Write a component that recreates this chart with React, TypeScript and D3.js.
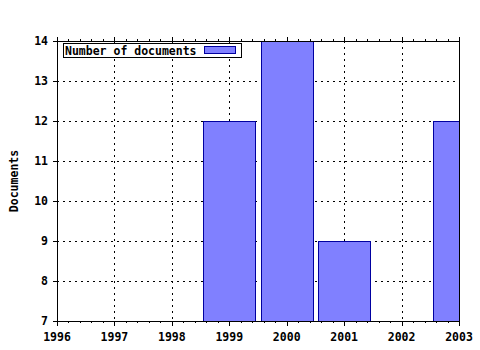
import React from "react";
import * as d3 from "d3";

const years = [1999, 2000, 2001, 2003];
const docs = [12, 14, 9, 12];
const xTicks = [1996, 1997, 1998, 1999, 2000, 2001, 2002, 2003];
const yTicks = [7, 8, 9, 10, 11, 12, 13, 14];
const seriesName = "Number of documents";
const yTitle = "Documents";

export default function App() {
  const W = 480, H = 350;
  const L = 57, R = 459, T = 41, B = 321;
  const x = d3.scaleLinear().domain([1996, 2003]).range([L, R]);
  const y = d3.scaleLinear().domain([7, 14]).range([B, T]);
  const minor = d3.range(1996, 2003.001, 0.2).filter((v) => Math.abs(v - Math.round(v)) > 0.01);
  const font = "'DejaVu Sans Mono', monospace";
  const fs = 11.5;
  const bw = 0.9;
  return (
    <svg width={W} height={H} style={{ position: "absolute", left: 0, top: 0, background: "#fff" }}>
      <defs>
        <clipPath id="plot">
          <rect x={L} y={T} width={R - L} height={B - T} />
        </clipPath>
      </defs>
      <rect width={W} height={H} fill="#fff" />
      {/* grid */}
      {xTicks.slice(1, -1).map((t) => (
        <line key={"gx" + t} x1={Math.round(x(t)) + 0.5} x2={Math.round(x(t)) + 0.5} y1={T} y2={B} stroke="#000" strokeDasharray="2,4" strokeWidth={1} shapeRendering="crispEdges" />
      ))}
      {yTicks.slice(1, -1).map((t) => (
        <line key={"gy" + t} x1={L} x2={R} y1={Math.round(y(t)) + 0.5} y2={Math.round(y(t)) + 0.5} stroke="#000" strokeDasharray="2,4" strokeWidth={1} shapeRendering="crispEdges" />
      ))}
      {/* bars */}
      <g clipPath="url(#plot)">
        {years.map((yr, i) => (
          <rect key={yr} x={Math.round(x(yr - bw / 2)) + 0.5} y={Math.round(y(docs[i])) + 0.5}
            width={Math.round(x(yr + bw / 2) - x(yr - bw / 2))} height={Math.round(B - y(docs[i]))}
            fill="#8080ff" stroke="#0000a0" strokeWidth={1} shapeRendering="crispEdges" />
        ))}
      </g>
      {/* frame */}
      <rect x={L + 0.5} y={T + 0.5} width={R - L} height={B - T} fill="none" stroke="#000" strokeWidth={1} shapeRendering="crispEdges" />
      {/* x ticks */}
      {xTicks.map((t) => (
        <g key={"xt" + t}>
          <line x1={Math.round(x(t)) + 0.5} x2={Math.round(x(t)) + 0.5} y1={B} y2={B + 5} stroke="#000" shapeRendering="crispEdges" />
          <line x1={Math.round(x(t)) + 0.5} x2={Math.round(x(t)) + 0.5} y1={T - 4} y2={T} stroke="#000" shapeRendering="crispEdges" />
          <text x={x(t)} y={341} textAnchor="middle" fontFamily={font} fontWeight="bold" fontSize={fs}>{t}</text>
        </g>
      ))}
      {minor.map((t, i) => (
        <g key={"mx" + i}>
          <line x1={Math.round(x(t)) + 0.5} x2={Math.round(x(t)) + 0.5} y1={B} y2={B + 2} stroke="#000" shapeRendering="crispEdges" />
          <line x1={Math.round(x(t)) + 0.5} x2={Math.round(x(t)) + 0.5} y1={T - 2} y2={T} stroke="#000" shapeRendering="crispEdges" />
        </g>
      ))}
      {/* y ticks */}
      {yTicks.map((t) => (
        <g key={"yt" + t}>
          <line x1={L - 4} x2={L} y1={Math.round(y(t)) + 0.5} y2={Math.round(y(t)) + 0.5} stroke="#000" shapeRendering="crispEdges" />
          <text x={48} y={y(t) + 4} textAnchor="end" fontFamily={font} fontWeight="bold" fontSize={fs}>{t}</text>
        </g>
      ))}
      <text transform={`translate(18,${(T + B) / 2}) rotate(-90)`} textAnchor="middle" fontFamily={font} fontWeight="bold" fontSize={fs}>{yTitle}</text>
      {/* legend */}
      <rect x={63.5} y={43.5} width={178} height={14} fill="#fff" stroke="#000" shapeRendering="crispEdges" />
      <text x={65} y={54.5} fontFamily={font} fontWeight="bold" fontSize={fs}>{seriesName}</text>
      <rect x={204.5} y={46.5} width={31} height={7} fill="#8080ff" stroke="#0000a0" shapeRendering="crispEdges" />
    </svg>
  );
}
